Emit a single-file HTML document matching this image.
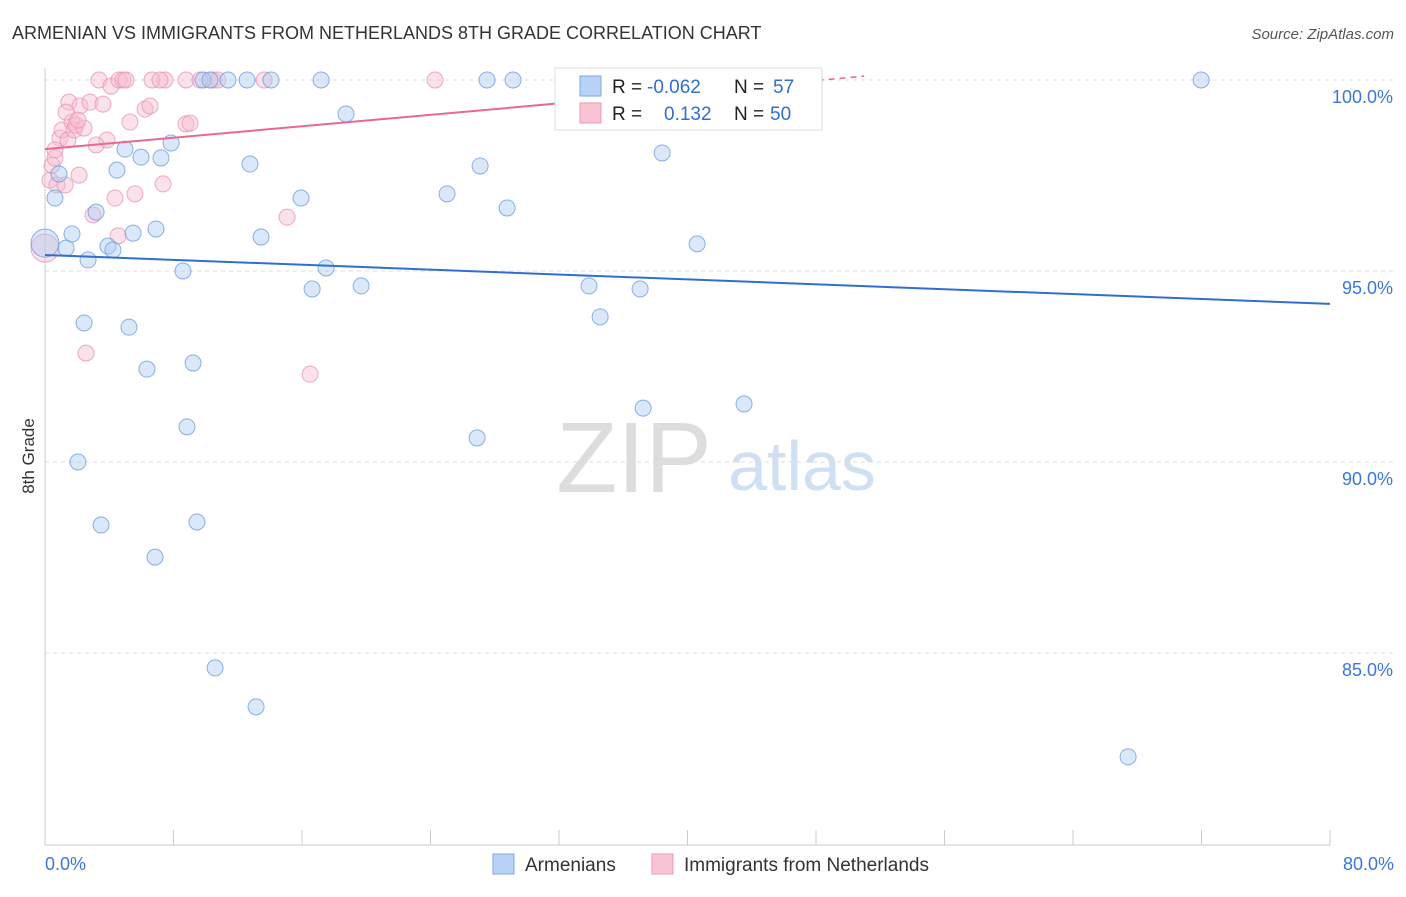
<!DOCTYPE html>
<html><head><meta charset="utf-8"><style>
body{margin:0;background:#fff;font-family:"Liberation Sans",sans-serif;}
svg text{font-family:"Liberation Sans",sans-serif;}
</style></head><body>
<svg id="chart" width="1406" height="892">
<text x="12" y="39" font-size="18" fill="#333">ARMENIAN VS IMMIGRANTS FROM NETHERLANDS 8TH GRADE CORRELATION CHART</text>
<text x="1394" y="39" font-size="15" fill="#555" text-anchor="end" font-style="italic">Source: ZipAtlas.com</text>
<text x="34" y="456" font-size="17" fill="#333" transform="rotate(-90 34 456)" text-anchor="middle">8th Grade</text>
<text x="634" y="492" font-size="100" fill="#ddd" font-family="Liberation Serif" text-anchor="middle">ZIP</text>
<text x="802" y="490" font-size="70" fill="#cfe0f5" text-anchor="middle">atlas</text>
<g id="grid"></g><g id="pts"></g><g id="lines"></g>
<g>
<rect x="555" y="68" width="267" height="62" fill="#fff" stroke="#ddd"/>
<rect x="580" y="76" width="21" height="20" fill="#b8d3f5" stroke="#7aa8e5"/>
<rect x="580" y="103" width="21" height="20" fill="#f9c4d4" stroke="#eb98b4"/>
<text x="612" y="93" font-size="19" fill="#222">R = <tspan fill="#2f6fd0" x="647">-0.062</tspan><tspan x="734">N = </tspan><tspan fill="#2f6fd0" x="773">57</tspan></text>
<text x="612" y="120" font-size="19" fill="#222">R = <tspan fill="#2f6fd0" x="664">0.132</tspan><tspan x="734">N = </tspan><tspan fill="#2f6fd0" x="770">50</tspan></text>
</g>
<g>
<rect x="493" y="854" width="21" height="20" fill="#b8d3f5" stroke="#7aa8e5"/>
<text x="525" y="871" font-size="19" fill="#333">Armenians</text>
<rect x="652" y="854" width="21" height="20" fill="#f9c4d4" stroke="#eb98b4"/>
<text x="684" y="871" font-size="19" fill="#333">Immigrants from Netherlands</text>
</g>
</svg>
<script>
const yTicks=[100,95,90,85];
const xTickLabels=["0.0%","80.0%"];
const blueX=[0,0.62,0.87,1.31,1.68,2.05,2.43,2.68,3.18,3.49,3.92,4.23,4.48,4.98,5.23,5.48,5.98,6.35,6.85,6.91,7.22,7.85,8.59,8.84,9.22,9.46,9.84,10.27,10.59,11.39,12.58,12.76,13.14,13.45,14.07,15.94,16.63,17.19,17.5,18.74,19.68,25.03,26.9,27.09,27.52,28.77,29.14,32.81,33.87,34.56,37.05,37.24,38.42,40.6,43.52,67.43,71.98];
const blueY=[95.73,96.91,97.54,95.6,95.97,90,93.64,95.29,96.54,88.35,95.65,95.55,97.64,98.19,93.53,95.99,97.98,92.43,87.51,96.1,97.96,98.35,95,90.92,92.59,88.43,100,100,84.61,100,100,97.8,83.59,95.89,100,96.91,94.53,100,95.08,99.11,94.61,97.02,90.63,97.75,100,96.65,100,100,94.61,93.8,94.53,91.41,98.09,95.71,91.52,82.28,100];
const pinkX=[0,0.31,0.44,0.62,0.75,0.93,1.06,1.25,1.43,1.49,1.68,1.81,1.93,2.12,2.18,2.43,2.55,2.8,2.99,3.36,3.61,3.86,4.11,4.36,4.55,4.61,4.86,5.04,5.29,5.6,6.23,6.54,6.66,7.35,7.47,8.78,8.78,9.03,10.46,10.77,13.64,15.07,16.5,24.28,0.62,1.31,2.05,3.18,7.16,9.65];
const pinkY=[95.6,97.38,97.77,97.96,97.25,98.48,98.69,97.25,98.43,99.42,98.9,98.69,98.82,97.51,99.32,98.74,92.85,99.42,96.47,100,99.37,98.43,99.84,96.91,95.92,100,100,100,98.9,97.02,99.24,99.32,100,97.28,100,100,98.85,98.87,100,100,100,96.41,92.3,100,98.17,99.16,98.95,98.3,100,100];
const blueTrend=[[0,95.42],[80,94.14]];
const pinkTrend=[[0,98.19],[40.6,99.71]];
const pinkDash=[[40.6,99.71],[51,100.1]];
const X=v=>45+v*16.0625, Y=v=>80+(100-v)*38.2;
const NS="http://www.w3.org/2000/svg";
function mk(t,a,p){const e=document.createElementNS(NS,t);for(const k in a)e.setAttribute(k,a[k]);p.appendChild(e);return e;}
const g=document.getElementById('grid');
yTicks.forEach(t=>{
 const l=mk('line',{x1:45,x2:1394,y1:Y(t),y2:Y(t),stroke:'#ddd','stroke-dasharray':'4 4'},g);
 
 
 const tx=mk('text',{x:1393,y:Y(t)+23,'font-size':18,fill:'#3a78d8','text-anchor':'end'},g);
 tx.textContent=t.toFixed(1)+'%';
 
 
});
mk('line',{x1:45,x2:45,y1:68,y2:845,stroke:'#ccc'},g);
mk('line',{x1:45,x2:1330,y1:845,y2:845,stroke:'#ccc'},g);
for(let i=0;i<=10;i++){const tk=mk('line',{x1:X(i*8),x2:X(i*8),y1:830,y2:845,stroke:'#ccc'},g);
 
 }
[[0,'start',45],[80,'end',1394]].forEach((d,i)=>{const t=mk('text',{x:d[2],y:870,'font-size':18,fill:'#3a78d8','text-anchor':d[1]},g);t.textContent=xTickLabels[i];
 
 });
const p=document.getElementById('pts');
function dots(xs,ys,fill,stroke,name){xs.forEach((x,i)=>{const r=i==0?14:8;
 const c=mk('circle',{cx:X(x),cy:Y(ys[i]),r:r,fill:fill,'fill-opacity':0.45,stroke:stroke,'stroke-opacity':0.8,'stroke-width':1},p);
 
 });}
dots(pinkX,pinkY,'#f7bcd0','#e996b3','pink-point');
dots(blueX,blueY,'#b0cdf2','#6d9fe0','blue-point');
const L=document.getElementById('lines');
const bl=mk('line',{x1:X(blueTrend[0][0]),y1:Y(blueTrend[0][1]),x2:X(blueTrend[1][0]),y2:Y(blueTrend[1][1]),stroke:'#2f6fd0','stroke-width':2},L);


const pl=mk('line',{x1:X(pinkTrend[0][0]),y1:Y(pinkTrend[0][1]),x2:X(pinkTrend[1][0]),y2:Y(pinkTrend[1][1]),stroke:'#e8688f','stroke-width':2},L);


const pd=mk('line',{x1:X(pinkDash[0][0]),y1:Y(pinkDash[0][1]),x2:X(pinkDash[1][0]),y2:Y(pinkDash[1][1]),stroke:'#e8688f','stroke-width':1.5,'stroke-dasharray':'6 5'},L);


</script>
</body></html>
